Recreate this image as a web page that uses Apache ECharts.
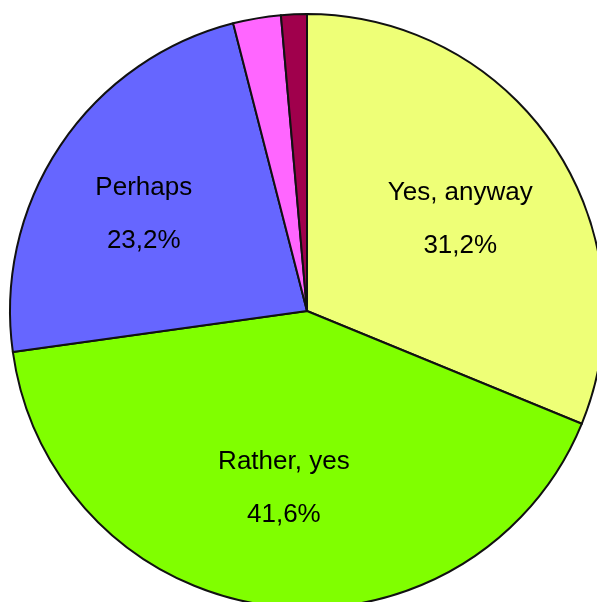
<!DOCTYPE html>
<html>
<head>
<meta charset="utf-8">
<script src="https://cdn.jsdelivr.net/npm/echarts@6/dist/echarts.min.js"></script>
<style>
html,body{margin:0;padding:0;background:#fff;}
#chart{width:597px;height:602px;}
</style>
</head>
<body>
<div id="chart"></div>
<script>
const categories = ['Yes, anyway', 'Rather, yes', 'Perhaps', 'Rather not', 'No'];
const values = [31.2, 41.6, 23.2, 2.6, 1.4];
const colors = ['#EEFF77', '#80FF00', '#6666FF', '#FF66FF', '#A0004C'];
const labelled = [true, true, true, false, false];
// small nudges of the label blocks (layout only)
const labelNudge = [[0, 11], [0, -6], [-10, 6], [0, 0], [0, 0]];

const chart = echarts.init(document.getElementById('chart'));
const fmt = p => p.name + '\n' + p.percent.toFixed(1).replace('.', ',') + '%';
chart.setOption({
  backgroundColor: '#fff',
  animation: false,
  series: [
    {
      type: 'pie',
      center: [307, 311],
      radius: [0, 297],
      startAngle: 90,
      clockwise: true,
      silent: true,
      label: { show: false },
      labelLine: { show: false },
      itemStyle: { borderColor: '#111', borderWidth: 2 },
      data: categories.map((c, i) => ({ name: c, value: values[i], itemStyle: { color: colors[i] } }))
    },
    {
      type: 'pie',
      center: [307, 311],
      radius: [66, 297],
      startAngle: 90,
      clockwise: true,
      silent: true,
      itemStyle: { color: 'rgba(0,0,0,0)', borderWidth: 0 },
      labelLine: { show: false },
      labelLayout: p => ({ dx: labelNudge[p.dataIndex][0], dy: labelNudge[p.dataIndex][1] }),
      label: {
        show: true,
        position: 'inside',
        formatter: fmt,
        color: '#000',
        fontFamily: 'Liberation Sans, Arial, sans-serif',
        fontSize: 26,
        lineHeight: 53
      },
      data: categories.map((c, i) => ({ name: c, value: values[i], label: { show: labelled[i] } }))
    }
  ]
});
</script>
</body>
</html>
